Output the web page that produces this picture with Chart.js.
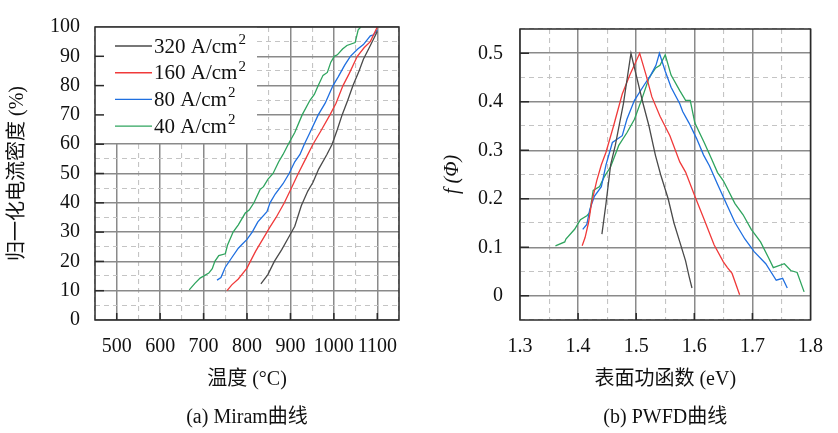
<!DOCTYPE html>
<html>
<head>
<meta charset="utf-8">
<script src="https://cdn.jsdelivr.net/npm/chart.js@4.4.1/dist/chart.umd.min.js"></script>
<style>
  body { margin: 0; background: #fff; }
  #wrap { position: relative; width: 838px; height: 433px; }
  canvas { position: absolute; top: 0; }
</style>
</head>
<body>
<div id="wrap">
  <canvas id="miram" width="419" height="433" style="left:0"></canvas>
  <canvas id="pwfd" width="419" height="433" style="left:419px"></canvas>
</div>
<script>
// (a) Miram curves: temperature (°C) vs normalised current density (%)
const miramLabels = ['320 A/cm', '160 A/cm', '80 A/cm', '40 A/cm']
const miramT320 = [832, 848, 863, 880, 895, 910, 925, 940, 952, 965, 984, 996, 1008, 1019, 1032, 1044, 1058, 1068, 1080, 1090, 1100]
const miramJ320 = [12.3, 15.5, 20, 24, 28, 32, 39, 44, 47, 51.5, 56.5, 60, 65, 70, 75, 80, 85, 89, 92.5, 95.5, 98.5]
const miramT160 = [754, 765, 780, 800, 806, 820, 846, 852, 867, 886, 899, 918, 935, 952, 970, 991, 1005, 1021, 1035, 1054, 1070, 1084, 1100]
const miramJ160 = [10, 12, 14, 17.7, 19.5, 23.5, 30, 31.5, 35, 40, 44, 50, 55, 60, 64.5, 70, 74, 80, 84, 90, 93, 95, 100]
const miramT80 = [731, 740, 750, 766, 780, 790, 800, 812, 825, 846, 853, 865, 883, 897, 910, 922, 932, 945, 964, 980, 998, 1010, 1025, 1038, 1055, 1068, 1084, 1091, 1100]
const miramJ80 = [13.6, 14.5, 18, 21.5, 24.5, 26, 27.5, 30, 33.5, 37, 40, 43, 46.5, 50, 54, 56.5, 60, 64, 70, 74, 80, 83, 87, 90, 92.5, 94, 97, 97.3, 99]
const miramT40 = [667, 680, 692, 712, 720, 726, 735, 750, 755, 768, 780, 796, 805, 816, 830, 838, 848, 860, 873, 883, 895, 910, 927, 945, 955, 964, 975, 985, 993, 1001, 1008, 1020, 1030, 1049, 1056, 1062]
const miramJ40 = [10.3, 12.5, 14.3, 16, 17.5, 20, 22, 22.6, 25.5, 30, 32.5, 36.5, 37.5, 40, 44.5, 45.5, 48, 50, 54, 56.5, 60, 64, 70, 75, 77, 80, 83.5, 84.5, 88, 90, 90.5, 92.5, 93.7, 94.7, 99, 100]
const miramXTicks = [500, 600, 700, 800, 900, 1000, 1100]
const miramYTicks = [0, 10, 20, 30, 40, 50, 60, 70, 80, 90, 100]

// (b) PWFD curves: work function (eV) vs f(Φ)
const pwfdPhi320 = [1.441, 1.448, 1.456, 1.464, 1.478, 1.491, 1.500, 1.511, 1.522, 1.533, 1.542, 1.555, 1.565, 1.575, 1.585, 1.591, 1.596]
const pwfdF320 = [0.127, 0.19, 0.27, 0.31, 0.396, 0.50, 0.455, 0.40, 0.35, 0.29, 0.25, 0.20, 0.15, 0.111, 0.072, 0.04, 0.016]
const pwfdPhi160 = [1.407, 1.412, 1.418, 1.423, 1.432, 1.440, 1.448, 1.461, 1.476, 1.489, 1.506, 1.517, 1.527, 1.541, 1.558, 1.575, 1.585, 1.601, 1.617, 1.634, 1.650, 1.657, 1.665, 1.678]
const pwfdF160 = [0.103, 0.12, 0.151, 0.19, 0.237, 0.27, 0.296, 0.35, 0.416, 0.455, 0.50, 0.455, 0.41, 0.37, 0.33, 0.276, 0.255, 0.205, 0.157, 0.105, 0.07, 0.058, 0.046, 0.002]
const pwfdPhi80 = [1.408, 1.415, 1.420, 1.428, 1.440, 1.448, 1.459, 1.476, 1.484, 1.497, 1.514, 1.525, 1.534, 1.540, 1.550, 1.560, 1.575, 1.580, 1.591, 1.604, 1.616, 1.626, 1.640, 1.657, 1.670, 1.687, 1.703, 1.723, 1.741, 1.752, 1.760]
const pwfdF80 = [0.137, 0.147, 0.177, 0.205, 0.225, 0.27, 0.316, 0.33, 0.364, 0.403, 0.435, 0.455, 0.475, 0.50, 0.463, 0.43, 0.396, 0.38, 0.356, 0.324, 0.29, 0.268, 0.23, 0.185, 0.151, 0.117, 0.091, 0.066, 0.032, 0.036, 0.016]
const pwfdPhi40 = [1.361, 1.377, 1.379, 1.394, 1.404, 1.415, 1.420, 1.426, 1.437, 1.445, 1.456, 1.470, 1.484, 1.497, 1.511, 1.522, 1.533, 1.541, 1.550, 1.560, 1.575, 1.585, 1.593, 1.601, 1.617, 1.629, 1.640, 1.650, 1.670, 1.684, 1.698, 1.714, 1.728, 1.736, 1.755, 1.766, 1.777, 1.789]
const pwfdF40 = [0.103, 0.111, 0.117, 0.137, 0.157, 0.165, 0.171, 0.217, 0.225, 0.245, 0.266, 0.31, 0.336, 0.364, 0.41, 0.449, 0.469, 0.475, 0.497, 0.455, 0.423, 0.403, 0.403, 0.356, 0.316, 0.284, 0.254, 0.237, 0.19, 0.167, 0.137, 0.111, 0.078, 0.058, 0.066, 0.052, 0.048, 0.008]
const pwfdXTicks = [1.3, 1.4, 1.5, 1.6, 1.7, 1.8]
const pwfdYTicks = [0, 0.1, 0.2, 0.3, 0.4, 0.5]

const colors = ['#4a4a4a', '#f03a3a', '#1f6fe0', '#2fa45e']
const serif = '"Liberation Serif", "Noto Sans CJK SC", serif'

function pts(xs, ys) {
  return xs.map((x, i) => ({ x: x, y: ys[i] }))
}

function isTick(list, v) {
  return list.some(t => Math.abs(t - v) < 1e-6)
}

function gridFor(list) {
  return {
    drawTicks: false,
    color: c => isTick(list, c.tick.value) ? '#8a8a8a' : '#c4c4c4',
    lineWidth: c => isTick(list, c.tick.value) ? 1.5 : 1.1
  }
}

function borderFor(list) {
  return {
    display: false,
    dash: c => isTick(list, c.tick.value) ? [] : [5, 4]
  }
}

// white legend box inside plot, frame and inner tick marks
const framePlugin = {
  id: 'frame',
  afterDatasetsDraw(chart, args, opts) {
    const ctx = chart.ctx
    const a = chart.chartArea
    ctx.save()
    if (opts.legend) {
      ctx.fillStyle = '#fff'
      ctx.fillRect(a.left, a.top, 162, 116)
      ctx.textBaseline = 'middle'
      chart.data.datasets.forEach((ds, i) => {
        const y = a.top + 19 + i * 26.7
        ctx.strokeStyle = ds.borderColor
        ctx.lineWidth = 1.4
        ctx.beginPath()
        ctx.moveTo(a.left + 20, y)
        ctx.lineTo(a.left + 57, y)
        ctx.stroke()
        ctx.fillStyle = '#111'
        ctx.font = '21px ' + serif
        ctx.fillText(ds.label, a.left + 59, y + 1)
        const w = ctx.measureText(ds.label).width
        ctx.font = '15px ' + serif
        ctx.fillText('2', a.left + 60 + w, y - 6)
      })
    }
    ctx.strokeStyle = '#2a2a2a'
    ctx.lineWidth = 1.5
    const xs = chart.scales.x, ys = chart.scales.y
    opts.xTicks.forEach(v => {
      if (v <= xs.min || v >= xs.max) return
      const px = xs.getPixelForValue(v)
      ctx.beginPath()
      ctx.moveTo(px, a.bottom)
      ctx.lineTo(px, a.bottom - 7)
      ctx.stroke()
    })
    opts.yTicks.forEach(v => {
      if (v <= ys.min || v >= ys.max) return
      const py = ys.getPixelForValue(v)
      ctx.beginPath()
      ctx.moveTo(a.left, py)
      ctx.lineTo(a.left + 9, py)
      ctx.stroke()
    })
    ctx.strokeRect(a.left, a.top, a.right - a.left, a.bottom - a.top)
    ctx.restore()
  }
}

function makeChart(id, sets, cfg) {
  return new Chart(document.getElementById(id), {
    type: 'line',
    data: {
      datasets: sets.map((s, i) => ({
        label: miramLabels[i],
        data: s,
        borderColor: colors[i],
        borderWidth: 1.3,
        pointRadius: 0,
        tension: 0,
        fill: false
      }))
    },
    options: {
      responsive: false,
      animation: false,
      events: [],
      layout: { padding: { top: 19, right: cfg.padRight, left: 0, bottom: 0 } },
      scales: {
        x: {
          type: 'linear',
          min: cfg.xMin, max: cfg.xMax,
          afterFit: s => { s.height = 113 },
          grid: gridFor(cfg.xTicks),
          border: borderFor(cfg.xTicks),
          ticks: {
            stepSize: cfg.xStep,
            padding: 15,
            maxRotation: 0,
            autoSkip: false,
            color: '#111',
            font: { family: serif, size: 20 },
            callback: v => isTick(cfg.xTicks, v) ? cfg.xFmt(v) : ''
          },
          // axis title and the panel caption below it, centred on the plot
          title: {
            display: true,
            text: [cfg.xTitle, cfg.caption],
            color: '#111',
            font: { family: serif, size: 20, lineHeight: '38px' },
            padding: { top: 0, bottom: -4 }
          }
        },
        y: {
          type: 'linear',
          min: cfg.yMin, max: cfg.yMax,
          afterFit: s => { s.width = cfg.yWidth },
          grid: gridFor(cfg.yTicks),
          border: borderFor(cfg.yTicks),
          ticks: {
            stepSize: cfg.yStep,
            padding: cfg.yPad,
            autoSkip: false,
            color: '#111',
            font: { family: serif, size: 20 },
            callback: v => isTick(cfg.yTicks, v) ? cfg.yFmt(v) : ''
          },
          title: {
            display: true,
            text: cfg.yTitle,
            color: '#111',
            font: { family: serif, size: 20, style: cfg.yStyle },
            padding: { top: cfg.yTitlePad, bottom: 0 }
          }
        }
      },
      plugins: {
        legend: { display: false },
        tooltip: { enabled: false },
        frame: { legend: cfg.legend, xTicks: cfg.xTicks, yTicks: cfg.yTicks }
      }
    },
    plugins: [framePlugin]
  })
}

makeChart('miram', [
  pts(miramT320, miramJ320),
  pts(miramT160, miramJ160),
  pts(miramT80, miramJ80),
  pts(miramT40, miramJ40)
], {
  xMin: 450, xMax: 1150, xStep: 50, xTicks: miramXTicks, xFmt: v => String(v),
  yMin: 0, yMax: 100, yStep: 5, yTicks: miramYTicks, yFmt: v => String(v),
  yWidth: 95, yPad: 15, yTitlePad: 6, yStyle: 'normal', padRight: 20,
  xTitle: '温度 (°C)', yTitle: '归一化电流密度 (%)', caption: '(a) Miram曲线',
  legend: true
})

makeChart('pwfd', [
  pts(pwfdPhi320, pwfdF320),
  pts(pwfdPhi160, pwfdF160),
  pts(pwfdPhi80, pwfdF80),
  pts(pwfdPhi40, pwfdF40)
], {
  xMin: 1.3, xMax: 1.8, xStep: 0.05, xTicks: pwfdXTicks, xFmt: v => v.toFixed(1),
  yMin: -0.05, yMax: 0.55, yStep: 0.05, yTicks: pwfdYTicks,
  yFmt: v => Math.abs(v) < 1e-9 ? '0' : v.toFixed(1),
  yWidth: 101, yPad: 17, yTitlePad: 22, yStyle: 'italic', padRight: 14,
  xTitle: '表面功函数 (eV)', yTitle: 'f (Φ)', caption: '(b) PWFD曲线',
  legend: false
})
</script>
</body>
</html>
